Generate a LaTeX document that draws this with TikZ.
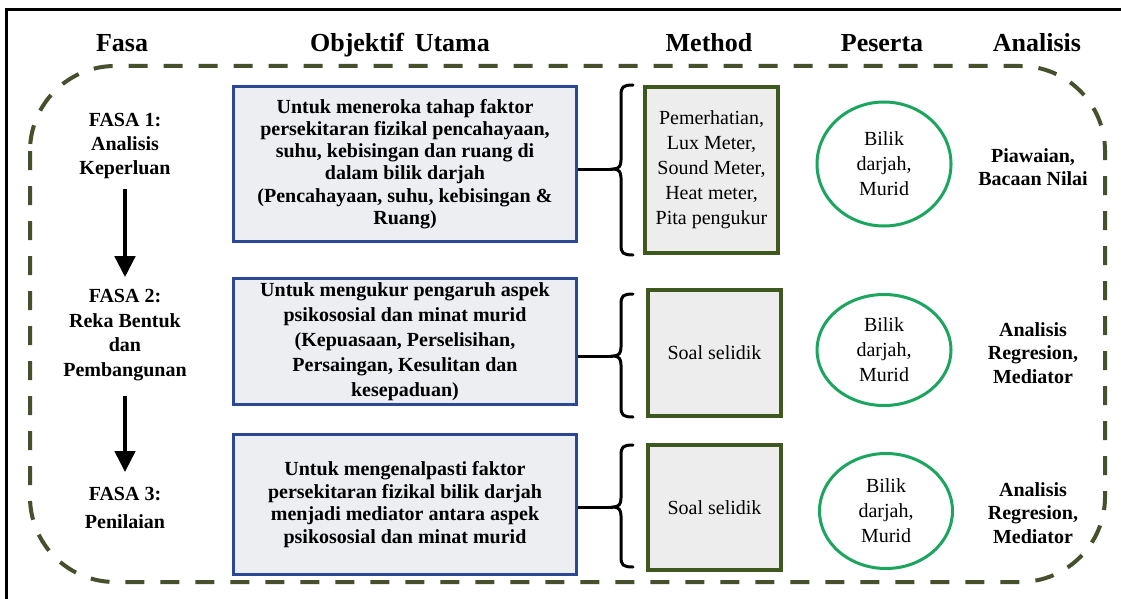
\documentclass[tikz,border=0pt]{standalone}
\usepackage{fontspec}
\setmainfont{Liberation Serif}
\usetikzlibrary{arrows.meta,shapes.geometric}
\definecolor{boxblue}{RGB}{42,72,150}
\definecolor{boxfill}{RGB}{236,238,242}
\definecolor{mgreen}{RGB}{62,88,30}
\definecolor{mfill}{RGB}{238,237,238}
\definecolor{egreen}{RGB}{28,165,95}
\definecolor{dashc}{RGB}{70,80,45}
\newcommand{\drawbrace}[4]{%
  \draw[bracestyle] (633,#1) .. controls (623,#1) and (621,#1+2) .. (621,#1+10)
    -- (621,#2-9) .. controls (621,#2-3) and (619,#2) .. (613,#2)
    .. controls (619,#2) and (621,#2+3) .. (621,#2+9)
    -- (621,#3-10) .. controls (621,#3-2) and (623,#3) .. (633,#3);
  \coordinate (#4) at (613,#2);}
\begin{document}
\begin{tikzpicture}[x=1pt,y=-1pt,
  hdr/.style={font=\fontsize{26}{30}\selectfont\bfseries, anchor=base, inner sep=0pt},
  fasa/.style={font=\fontsize{20}{24}\selectfont\bfseries, align=center, inner sep=0pt},
  objbox/.style={draw=boxblue, line width=3.8pt, fill=boxfill, align=center, inner sep=0pt,
    minimum width=343pt},
  methbox/.style={draw=mgreen, line width=4pt, fill=mfill, align=center, inner sep=0pt,
    font=\fontsize{20}{25}\selectfont, minimum width=133pt},
  partic/.style={draw=egreen, line width=3pt, ellipse, fill=white, align=center, inner sep=0pt,
    font=\fontsize{20}{25}\selectfont},
  anal/.style={font=\fontsize{20}{23.5}\selectfont\bfseries, align=center, inner sep=0pt},
  phasearrow/.style={line width=4.5pt, -{Triangle[width=20pt,length=21pt]}},
  bracestyle/.style={line width=3pt, line cap=round},
  link/.style={line width=3pt},
  dashframe/.style={draw=dashc, line width=4pt, dash pattern=on 19pt off 16pt, rounded corners=85pt}]
\useasboundingbox (0,0) rectangle (1121,599);
\fill[white] (0,0) rectangle (1121,599);
% outer black frame
\draw[line width=3.5pt] (6.5,599) -- (6.5,9.5) -- (1121,9.5);
% dashed frame
\draw[dashframe] (30,66) rectangle (1105,582);
% headers
\node[hdr] (h1) at (122,52) {Fasa};
\node[hdr] (h2) at (400,52) {Objektif\, Utama};
\node[hdr] (h3) at (709,52) {Method};
\node[hdr] (h4) at (882,52) {Peserta};
\node[hdr] (h5) at (1037,52) {Analisis};
% fasa column
\node[fasa] (f1) at (125,146) {FASA 1:\\Analisis\\Keperluan};
\node[fasa, font=\fontsize{20}{24.5}\selectfont\bfseries] (f2) at (125,335) {FASA 2:\\Reka Bentuk\\dan\\Pembangunan};
\node[fasa, font=\fontsize{20}{28}\selectfont\bfseries] (f3) at (125,508) {FASA 3:\\Penilaian};
\draw[phasearrow, shorten <=10pt, shorten >=12pt] (f1.south) -- (f2.north);
\draw[phasearrow, shorten <=15pt, shorten >=15pt] (f2.south) -- (f3.north);
% objective boxes
\node[objbox, minimum height=155pt, font=\fontsize{20}{22.3}\selectfont\bfseries] (b1) at (405,164)
  {Untuk meneroka tahap faktor\\persekitaran fizikal pencahayaan,\\suhu, kebisingan dan ruang di\\dalam bilik darjah\\(Pencahayaan, suhu, kebisingan \&\\Ruang)};
\node[objbox, minimum height=126pt, font=\fontsize{20}{25}\selectfont\bfseries] (b2) at (405,341.5)
  {Untuk mengukur pengaruh aspek\\psikososial dan minat murid\\(Kepuasaan, Perselisihan,\\Persaingan, Kesulitan dan\\kesepaduan)};
\node[objbox, minimum height=140pt, font=\fontsize{20}{22.7}\selectfont\bfseries] (b3) at (405,504.5)
  {Untuk mengenalpasti faktor\\persekitaran fizikal bilik darjah\\menjadi mediator antara aspek\\psikososial dan minat murid};
% method boxes
\node[methbox, minimum height=166pt] (g1) at (711.5,170)
  {Pemerhatian,\\Lux Meter,\\Sound Meter,\\Heat meter,\\Pita pengukur};
\node[methbox, minimum height=126pt] (g2) at (714.5,353) {Soal selidik};
\node[methbox, minimum height=125pt] (g3) at (714.5,507.5) {Soal selidik};
% braces
\drawbrace{85}{169}{255}{t1}
\drawbrace{294}{356}{417}{t2}
\drawbrace{445}{507}{567}{t3}
\draw[link] (b1.east |- t1) -- (t1);
\draw[link] (b2.east |- t2) -- (t2);
\draw[link] (b3.east |- t3) -- (t3);
% participants
\node[partic, minimum width=134pt, minimum height=124pt] (e1) at (884,164) {Bilik\\darjah,\\Murid};
\node[partic, minimum width=134pt, minimum height=111pt] (e2) at (884,350) {Bilik\\darjah,\\Murid};
\node[partic, minimum width=133pt, minimum height=115pt] (e3) at (886,511) {Bilik\\darjah,\\Murid};
% analysis
\node[anal] (a1) at (1033,167) {Piawaian,\\Bacaan Nilai};
\node[anal] (a2) at (1033,353) {Analisis\\Regresion,\\Mediator};
\node[anal] (a3) at (1033,513) {Analisis\\Regresion,\\Mediator};
\end{tikzpicture}
\end{document}
